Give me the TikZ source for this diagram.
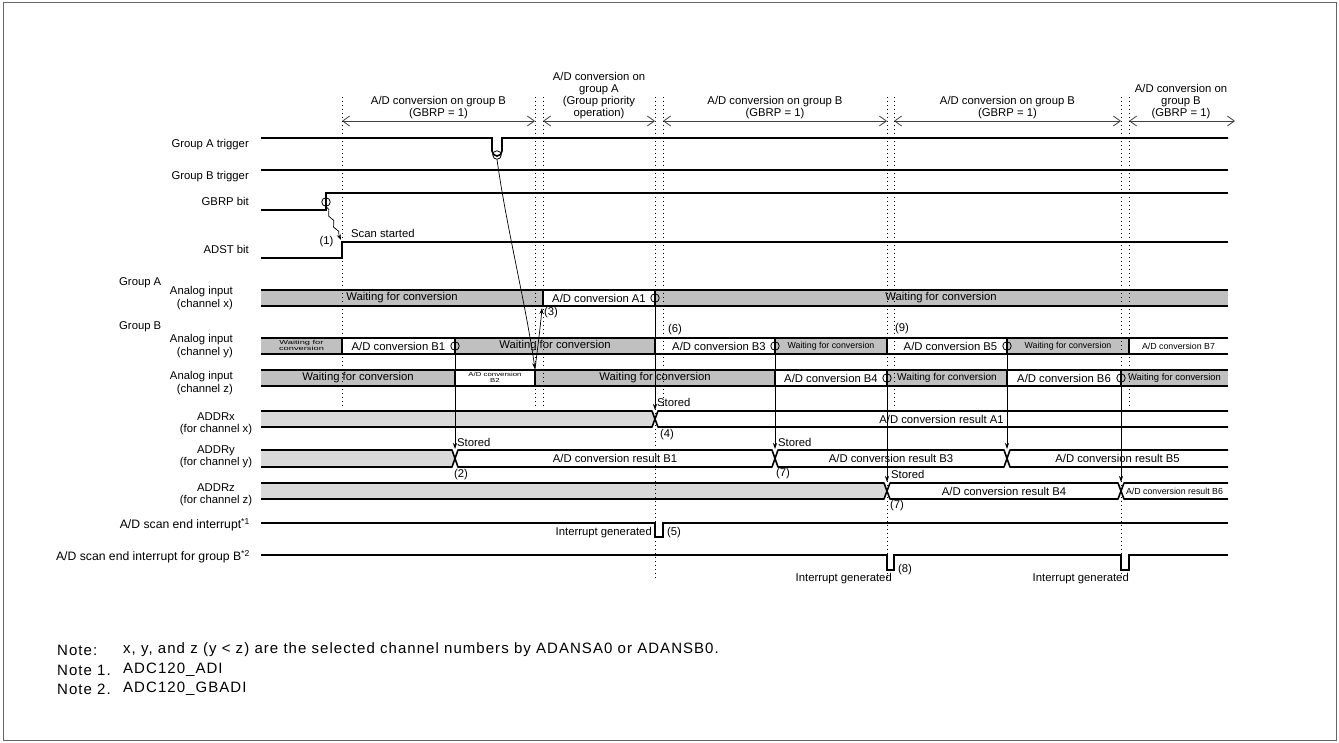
\documentclass[tikz,border=0pt]{standalone}
\usepackage{fontspec}
\setmainfont{Liberation Sans}
\newfontfamily\notefont{Liberation Sans}[LetterSpace=7]
\usetikzlibrary{arrows.meta,decorations.pathmorphing}

\definecolor{waitgray}{HTML}{C0C0C0}
\definecolor{reggray}{HTML}{D9D9D9}
\definecolor{spangray}{HTML}{404040}

\begin{document}
\begin{tikzpicture}[x=1pt, y=-1pt,
  lbl/.style={font=\fontsize{11.3}{12.2}\selectfont, inner sep=0pt, align=center},
  lblr/.style={lbl, anchor=east, align=right},
  intlbl/.style={lblr, font=\fontsize{12.2}{13}\selectfont},
  smalltxt/.style={font=\fontsize{8.8}{9}\selectfont, inner sep=0pt},
  tinytxt/.style={font=\fontsize{5.8}{6.2}\selectfont, inner sep=0pt},
  notetxt/.style={font=\notefont\fontsize{15}{17}\selectfont, inner sep=0pt, anchor=west},
  wave/.style={line width=1.6pt},
  bus/.style={line width=1.6pt, line join=round},
  tick/.style={line width=1pt, dash pattern=on 1pt off 3pt},
  span/.style={{Straight Barb[length=7pt,width=10pt]}-{Straight Barb[length=7pt,width=10pt]},
    line width=0.8pt, draw=spangray},
  arr/.style={-{Stealth[length=6pt,width=4pt]}, line width=0.7pt},
  ring/.style={circle, draw, line width=0.8pt, minimum size=8.5pt, inner sep=0pt},
]
  \useasboundingbox (0,0) rectangle (1339,742);
  \draw[black!60, line width=1pt] (3,2) rectangle (1336,740);

  % conversion periods
  \node[lbl] (hd1) at (438.5,107.5) {A/D conversion on group B\\(GBRP = 1)};
  \node[lbl] (hd2) at (599,95.5) {A/D conversion on\\group A\\(Group priority\\operation)};
  \node[lbl] (hd3) at (775,107.5) {A/D conversion on group B\\(GBRP = 1)};
  \node[lbl] (hd4) at (1007.5,107.5) {A/D conversion on group B\\(GBRP = 1)};
  \node[lbl] (hd5) at (1181,101.5) {A/D conversion on\\group B\\(GBRP = 1)};
  \foreach \a/\b in {342/535, 543/655, 663/887, 894/1121, 1129/1235}
    \draw[span] (\a,121) -- (\b,121);

  % signal names
  \node[lblr] (nTA) at (249,145) {Group A trigger};
  \node[lblr] (nTB) at (249,177) {Group B trigger};
  \node[lblr] (nGB) at (249,201) {GBRP bit};
  \node[lblr] (nAD) at (249,249) {ADST bit};
  \node[lbl, anchor=west] (nGrA) at (119,283) {Group A};
  \node[lbl, anchor=west] (nGrB) at (119,327) {Group B};
  \node[lblr] (nCx) at (233,298) {Analog input\\(channel x)};
  \node[lblr] (nCy) at (233,346) {Analog input\\(channel y)};
  \node[lblr] (nCz) at (233,383) {Analog input\\(channel z)};
  \node[lbl] (nRx) at (216,424) {ADDRx\\(for channel x)};
  \node[lbl] (nRy) at (216,457) {ADDRy\\(for channel y)};
  \node[lbl] (nRz) at (216,495) {ADDRz\\(for channel z)};
  \node[intlbl] (nI1) at (250,525) {A/D scan end interrupt\textsuperscript{*1}};
  \node[intlbl] (nI2) at (250,557) {A/D scan end interrupt for group B\textsuperscript{*2}};

  % bar fills
  \foreach \a/\b/\c in {261/543/waitgray, 543/655/white, 655/1228/waitgray}
    \fill[\c] (\a,290) rectangle (\b,306);
  \foreach \a/\b/\c in {261/342/waitgray, 342/455/white, 455/655/waitgray, 655/775/white,
      775/887/waitgray, 887/1007/white, 1007/1129/waitgray, 1129/1228/white}
    \fill[\c] (\a,338) rectangle (\b,354);
  \foreach \a/\b/\c in {261/455/waitgray, 455/535/white, 535/775/waitgray, 775/887/white,
      887/1007/waitgray, 1007/1121/white, 1121/1228/waitgray}
    \fill[\c] (\a,370) rectangle (\b,386);
  \fill[reggray] (261,411) -- (652,411) -- (655,419) -- (652,427) -- (261,427) -- cycle;
  \fill[reggray] (261,450) -- (452,450) -- (455,458.5) -- (452,467) -- (261,467) -- cycle;
  \fill[reggray] (261,483) -- (884,483) -- (887,491) -- (884,499) -- (261,499) -- cycle;

  % time markers
  \foreach \x/\e in {342/407, 535/407, 543/407, 655/580, 663/407, 887/580, 894/407,
      1121/580, 1129/407}
    \draw[tick] (\x,97) -- (\x,\e);

  % waveforms
  \draw[wave] (261,138) -- (492,138) -- (492,151) arc[start angle=180, end angle=0, radius=5]
    -- (502,138) -- (1228,138);
  \draw[wave] (261,170) -- (1228,170);
  \draw[wave] (261,210) -- (326,210) -- (326,193) -- (1228,193);
  \draw[wave] (261,258) -- (342,258) -- (342,242) -- (1228,242);
  \draw[wave] (261,523) -- (655,523) -- (655,537) -- (663,537) -- (663,523) -- (1228,523);
  \draw[wave] (261,555) -- (887,555) -- (887,570) -- (894,570) -- (894,555) -- (1121,555)
    -- (1121,570) -- (1129,570) -- (1129,555) -- (1228,555);

  % analog input bars
  \draw[bus] (261,290) -- (1228,290) (261,306) -- (1228,306);
  \foreach \x in {543,655} \draw[bus] (\x,290) -- (\x,306);
  \draw[bus] (261,338) -- (1228,338) (261,354) -- (1228,354);
  \foreach \x in {342,455,655,775,887,1007,1129} \draw[bus] (\x,338) -- (\x,354);
  \draw[bus] (261,370) -- (1228,370) (261,386) -- (1228,386);
  \foreach \x in {455,535,775,887,1007,1121} \draw[bus] (\x,370) -- (\x,386);

  % result registers
  \draw[bus] (261,411) -- (652,411) -- (658,427) -- (1228,427);
  \draw[bus] (261,427) -- (652,427) -- (658,411) -- (1228,411);
  \draw[bus] (261,450) -- (452,450) -- (458,467) -- (772,467) -- (778,450) -- (1004,450)
    -- (1010,467) -- (1228,467);
  \draw[bus] (261,467) -- (452,467) -- (458,450) -- (772,450) -- (778,467) -- (1004,467)
    -- (1010,450) -- (1228,450);
  \draw[bus] (261,483) -- (884,483) -- (890,499) -- (1118,499) -- (1124,483) -- (1228,483);
  \draw[bus] (261,499) -- (884,499) -- (890,483) -- (1118,483) -- (1124,499) -- (1228,499);

  % bar texts
  \node[lbl] (wx1) at (402,298) {Waiting for conversion};
  \node[lbl] (cA1) at (599,298) {A/D conversion A1};
  \node[lbl] (wx2) at (941,298) {Waiting for conversion};
  \node[tinytxt] (wy1) at (301.5,346.5)
    {\scalebox{1.6}[1]{\begin{tabular}{@{}c@{}}Waiting for\\conversion\end{tabular}}};
  \node[lbl] (cB1) at (398.5,346) {A/D conversion B1};
  \node[lbl] (wy2) at (555,346) {Waiting for conversion};
  \node[lbl] (cB3) at (719,346) {A/D conversion B3};
  \node[smalltxt] (wy3) at (831,346) {Waiting for conversion};
  \node[lbl] (cB5) at (950.5,346) {A/D conversion B5};
  \node[smalltxt] (wy4) at (1068,346) {Waiting for conversion};
  \node[smalltxt] (cB7) at (1178.5,346) {A/D conversion B7};
  \node[lbl] (wz1) at (358,378) {Waiting for conversion};
  \node[tinytxt] (cB2) at (495,378.5)
    {\scalebox{1.35}[1]{\begin{tabular}{@{}c@{}}A/D conversion\\B2\end{tabular}}};
  \node[lbl] (wz2) at (655,378) {Waiting for conversion};
  \node[lbl] (cB4) at (831,378) {A/D conversion B4};
  \node[lbl, font=\fontsize{10.1}{11}\selectfont] (wz3) at (947,378) {Waiting for conversion};
  \node[lbl] (cB6) at (1064,378) {A/D conversion B6};
  \node[lbl, font=\fontsize{9.4}{10}\selectfont] (wz4) at (1174.5,378) {Waiting for conversion};
  \node[lbl] (rA1) at (941.5,419) {A/D conversion result A1};
  \node[lbl] (rB1) at (615,458.5) {A/D conversion result B1};
  \node[lbl] (rB3) at (891,458.5) {A/D conversion result B3};
  \node[lbl] (rB5) at (1117.5,458.5) {A/D conversion result B5};
  \node[lbl] (rB4) at (1004,491) {A/D conversion result B4};
  \node[smalltxt] (rB6) at (1174.5,491) {A/D conversion result B6};

  % conversion end marks
  \node[ring] (trA) at (497,155) {};
  \node[ring] (gbr) at (326,202) {};
  \node[ring] (eA1) at (655,298) {};
  \node[ring] (eB1) at (455,346) {};
  \node[ring] (eB3) at (775,346) {};
  \node[ring] (eB5) at (1007,346) {};
  \node[ring] (eB4) at (887,378) {};
  \node[ring] (eB6) at (1121,378) {};

  % storing
  \coordinate (sA1) at (655,410);
  \coordinate (sB1) at (455,449);
  \coordinate (sB3) at (775,449);
  \coordinate (sB5) at (1007,449);
  \coordinate (sB4) at (887,482);
  \coordinate (sB6) at (1121,482);
  \foreach \n in {A1,B1,B3,B5,B4,B6}
    \draw[arr] (e\n.center) -- (s\n);
  \node[lbl, anchor=west] (stA1) at (657,402) {Stored};
  \node[lbl, anchor=west] (stB1) at (457,442) {Stored};
  \node[lbl, anchor=west] (stB3) at (778,442) {Stored};
  \node[lbl, anchor=west] (stB4) at (891,474) {Stored};

  % start and group A interruption
  \coordinate (adst) at (341,240);
  \coordinate (zB2) at (535,369);
  \coordinate (xA1) at (542,308);
  \draw[arr, decorate, decoration={snake, amplitude=1.5pt, segment length=12pt,
    post length=5pt}] (gbr.south) -- (adst);
  \draw[arr] (trA.south) .. controls (507,230) and (525,300) .. (zB2);
  \draw[arr] (zB2) .. controls (538,345) and (540,330) .. (xA1);

  % step numbers
  \node[lbl] (n1) at (326.5,242) {(1)};
  \node[lbl, anchor=west] (scan) at (351,233) {Scan started};
  \node[lbl] (n2) at (461,475) {(2)};
  \node[lbl] (n3) at (551,313) {(3)};
  \node[lbl] (n4) at (667,435) {(4)};
  \node[lbl] (n5) at (674,533) {(5)};
  \node[lbl] (n6) at (675,330) {(6)};
  \node[lbl] (n7a) at (783,474) {(7)};
  \node[lbl] (n7b) at (897,506) {(7)};
  \node[lbl] (n8) at (905,570) {(8)};
  \node[lbl] (n9) at (902,329) {(9)};
  \node[lbl, anchor=east] (ig1) at (652,533) {Interrupt generated};
  \node[lbl, anchor=east] (ig2) at (892,579) {Interrupt generated};
  \node[lbl, anchor=east] (ig3) at (1129,579) {Interrupt generated};

  % notes
  \node[notetxt] (nt0) at (57,650) {Note:};
  \node[notetxt] (nt0t) at (123,650)
    {x, y, and z (y < z) are the selected channel numbers by ADANSA0 or ADANSB0.};
  \node[notetxt] (nt1) at (57,670) {Note 1.};
  \node[notetxt] (nt1t) at (123,670) {ADC120\_ADI};
  \node[notetxt] (nt2) at (57,689) {Note 2.};
  \node[notetxt] (nt2t) at (123,689) {ADC120\_GBADI};
\end{tikzpicture}
\end{document}
